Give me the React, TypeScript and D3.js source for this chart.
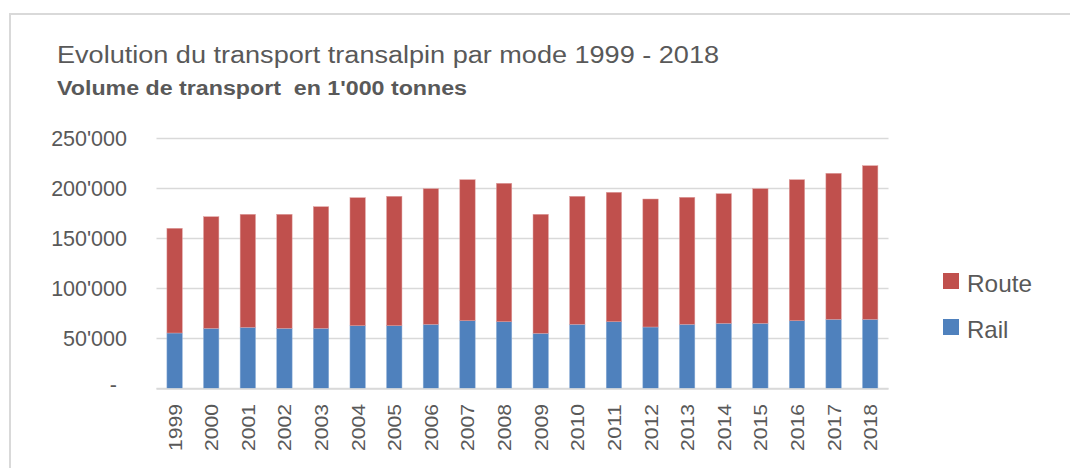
import React from "react";
import * as d3 from "d3";

const years = ["1999","2000","2001","2002","2003","2004","2005","2006","2007","2008","2009","2010","2011","2012","2013","2014","2015","2016","2017","2018"];
const railValues = [55500, 60200, 61200, 60200, 60200, 62800, 62800, 64200, 67800, 66800, 55200, 64200, 66800, 61500, 64200, 65200, 65200, 67800, 69200, 69200];
const totalValues = [160200, 171800, 174200, 174200, 181800, 190800, 192200, 199800, 208800, 205200, 174200, 192200, 196200, 189500, 191200, 194800, 199800, 208800, 215200, 222800];
const routeValues = totalValues.map((t, i) => t - railValues[i]);
const yTicks = [0, 50000, 100000, 150000, 200000, 250000];
const yTickLabels = ["-", "50'000", "100'000", "150'000", "200'000", "250'000"];
const seriesNames = ["Route", "Rail"];

const W = 1070, H = 468;
const font = "'Liberation Sans', Arial, sans-serif";
const textColor = "#595959";
const gridColor = "#d9d9d9";
const railColor = "#4F81BD";
const routeColor = "#C0504D";

export default function App() {
  const x = d3.scaleBand<string>().domain(years).range([156.3, 888.5]).paddingInner(0.58).paddingOuter(0.29);
  const y = d3.scaleLinear().domain([0, 250000]).range([388.5, 138.5]);
  const bw = x.bandwidth();

  return (
    <svg width={W} height={H} style={{ position: "absolute", left: 0, top: 0, background: "#fff" }} fontFamily={font}>
      <rect x={0} y={0} width={W} height={H} fill="#fff" />
      {/* frame */}
      <line x1={9} x2={W} y1={14} y2={14} stroke={gridColor} strokeWidth={2} />
      <line x1={10} x2={10} y1={14} y2={H} stroke={gridColor} strokeWidth={2} />

      {/* titles */}
      <text x={57} y={63} fontSize={23} fill={textColor} textLength={662} lengthAdjust="spacingAndGlyphs">
        Evolution du transport transalpin par mode 1999 - 2018
      </text>
      <text x={57} y={95} fontSize={19.5} fontWeight="bold" fill={textColor} textLength={410} lengthAdjust="spacingAndGlyphs" style={{ whiteSpace: "pre" }}>
        {"Volume de transport  en 1'000 tonnes"}
      </text>

      {/* gridlines */}
      {yTicks.map((t) => (
        <line key={t} x1={156.5} x2={888.5} y1={y(t)} y2={y(t)} stroke={gridColor} strokeWidth={1.6} />
      ))}

      {/* y labels */}
      {yTicks.map((t, i) => (
        <text key={t} x={t === 0 ? 117 : 127} y={y(t) + (t === 0 ? 3 : 7.8)} fontSize={21.5} fill={textColor} textAnchor="end">
          {yTickLabels[i]}
        </text>
      ))}

      {/* bars */}
      {years.map((yr, i) => (
        <g key={yr}>
          <rect x={x(yr)} y={y(railValues[i])} width={bw} height={y(0) - y(railValues[i])} fill={railColor} stroke="#8eb0d8" strokeWidth={0.5} />
          <rect x={x(yr)} y={y(totalValues[i])} width={bw} height={y(totalValues[i] - routeValues[i]) - y(totalValues[i])} fill={routeColor} stroke="#e0a0a0" strokeWidth={0.5} />
        </g>
      ))}
      {/* baseline redraw */}
      <line x1={156.5} x2={888.5} y1={y(0) + 0.5} y2={y(0) + 0.5} stroke={gridColor} strokeWidth={1.6} />

      {/* x labels */}
      {years.map((yr) => {
        const cx = (x(yr) as number) + bw / 2;
        return (
          <text key={yr} transform={`translate(${cx + 7},404) rotate(-90)`} fontSize={19} fill={textColor} textAnchor="end" textLength={47} lengthAdjust="spacingAndGlyphs">
            {yr}
          </text>
        );
      })}

      {/* legend */}
      <rect x={943} y={273} width={16} height={16} fill={routeColor} />
      <text x={967} y={292} fontSize={24} fill={textColor} textLength={65} lengthAdjust="spacingAndGlyphs">{seriesNames[0]}</text>
      <rect x={943} y={319} width={16} height={16} fill={railColor} />
      <text x={967} y={337.5} fontSize={24} fill={textColor}>{seriesNames[1]}</text>
    </svg>
  );
}
